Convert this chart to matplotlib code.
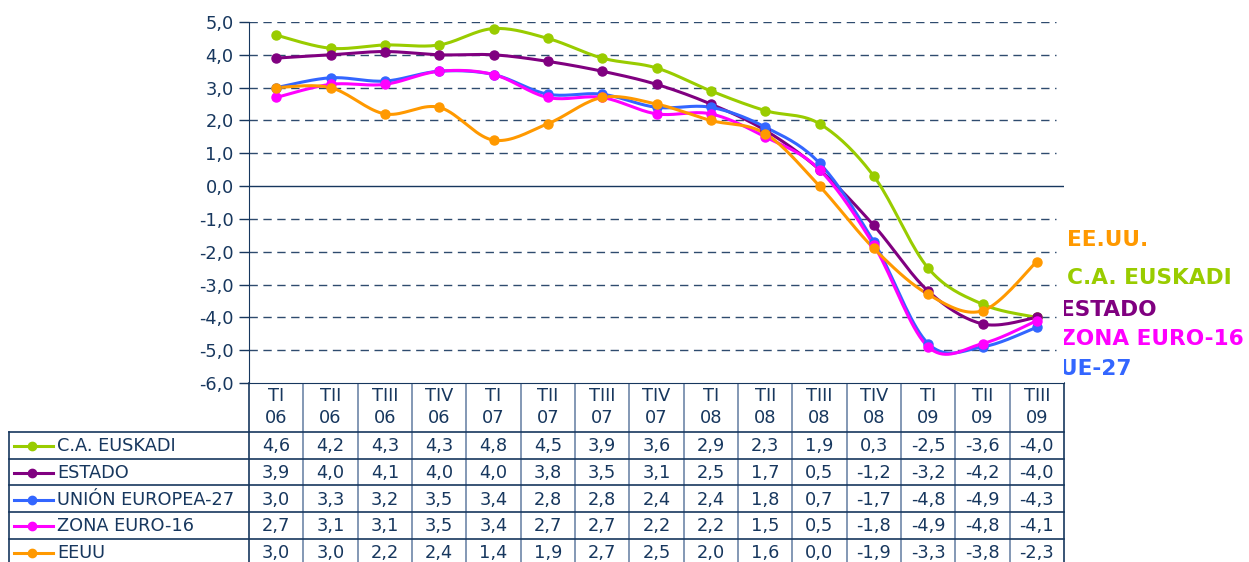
import numpy as np
import matplotlib
matplotlib.use("Agg")
import matplotlib.pyplot as plt
from matplotlib.transforms import blended_transform_factory

periods = ["TI\n06", "TII\n06", "TIII\n06", "TIV\n06", "TI\n07", "TII\n07", "TIII\n07", "TIV\n07",
           "TI\n08", "TII\n08", "TIII\n08", "TIV\n08", "TI\n09", "TII\n09", "TIII\n09"]

euskadi = [4.6, 4.2, 4.3, 4.3, 4.8, 4.5, 3.9, 3.6, 2.9, 2.3, 1.9, 0.3, -2.5, -3.6, -4.0]
estado = [3.9, 4.0, 4.1, 4.0, 4.0, 3.8, 3.5, 3.1, 2.5, 1.7, 0.5, -1.2, -3.2, -4.2, -4.0]
ue27 = [3.0, 3.3, 3.2, 3.5, 3.4, 2.8, 2.8, 2.4, 2.4, 1.8, 0.7, -1.7, -4.8, -4.9, -4.3]
zona16 = [2.7, 3.1, 3.1, 3.5, 3.4, 2.7, 2.7, 2.2, 2.2, 1.5, 0.5, -1.8, -4.9, -4.8, -4.1]
eeuu = [3.0, 3.0, 2.2, 2.4, 1.4, 1.9, 2.7, 2.5, 2.0, 1.6, 0.0, -1.9, -3.3, -3.8, -2.3]

series_names = ["C.A. EUSKADI", "ESTADO", "UNIÓN EUROPEA-27", "ZONA EURO-16", "EEUU"]
end_labels = ["C.A. EUSKADI", "ESTADO", "UE-27", "ZONA EURO-16", "EE.UU."]
series = [euskadi, estado, ue27, zona16, eeuu]
colors = ["#99CC00", "#800080", "#3366FF", "#FF00FF", "#FF9900"]

navy = "#17375E"
W, H = 1249, 562


def smooth(y, steps=20):
    # excel-style smoothed line (cubic bezier, catmull-rom control points)
    y = np.asarray(y, float)
    x = np.arange(len(y), dtype=float)
    p = np.column_stack([x, y])
    pts = []
    t = np.linspace(0, 1, steps)[:, None]
    for i in range(len(p) - 1):
        p0 = p[max(i - 1, 0)]
        p1, p2 = p[i], p[i + 1]
        p3 = p[min(i + 2, len(p) - 1)]
        c1 = p1 + (p2 - p0) / 6
        c2 = p2 - (p3 - p1) / 6
        seg = (1 - t) ** 3 * p1 + 3 * (1 - t) ** 2 * t * c1 + 3 * (1 - t) * t ** 2 * c2 + t ** 3 * p2
        pts.append(seg if i == 0 else seg[1:])
    pts = np.vstack(pts)
    return pts[:, 0], pts[:, 1]


fig = plt.figure(figsize=(W / 100, H / 100), dpi=100)
ax = fig.add_axes([249 / W, 1 - 383 / H, (1064 - 249) / W, (383 - 22) / H])
ax.set_xlim(-0.5, len(periods) - 0.5)
ax.set_ylim(-6, 5)

for v in range(-5, 6):
    if v == 0:
        ax.axhline(0, color=navy, lw=1, zorder=1)
    else:
        ax.axhline(v, xmax=0.99, color=navy, lw=1, ls=(0, (6, 4)), alpha=0.9, zorder=1)

for vals, c in zip(series, colors):
    xs, ys = smooth(vals)
    ax.plot(xs, ys, color=c, lw=2.2, zorder=3, solid_capstyle="round")
    ax.plot(np.arange(len(vals)), vals, "o", color=c, ms=6.5, zorder=4)

ax.set_yticks(range(-6, 6))
ax.set_yticklabels([f"{v},0" for v in range(-6, 6)], fontsize=12.8, color=navy)
ax.set_xticks([])
ax.tick_params(axis="y", length=7, width=1, color=navy, pad=4)
for s in ["top", "right"]:
    ax.spines[s].set_visible(False)
ax.spines["left"].set_color(navy)
ax.spines["bottom"].set_color(navy)

# overlay in pixel coordinates for the data table and end labels
tab = fig.add_axes([0, 0, 1, 1], zorder=-1)
tab.set_xlim(0, W)
tab.set_ylim(H, 0)
tab.axis("off")
bt = blended_transform_factory(ax.transData, tab.transData)

n = len(periods)
row_top = 432
row_h = 26.7
rows_y = [row_top + row_h * k for k in range(len(series) + 1)]

# column separators
for i in range(n + 1):
    edge = i in (0, n)
    tab.plot([i - 0.5, i - 0.5], [383, H + 10], transform=bt,
             color=navy if edge else "#6E86A8", lw=1.2, clip_on=False)
# horizontal row lines
x_right = ax.transData.transform((n - 0.5, 0))[0]
for yy in rows_y:
    tab.plot([9, x_right], [yy, yy], color=navy, lw=1.2)
tab.plot([9, 9], [row_top, H + 10], color=navy, lw=1.2)

for i, lab in enumerate(periods):
    a, b = lab.split("\n")
    tab.text(i, 396, a, transform=bt, ha="center", va="center", fontsize=12.8, color=navy)
    tab.text(i, 418, b, transform=bt, ha="center", va="center", fontsize=12.8, color=navy)

for r, (name, vals, c) in enumerate(zip(series_names, series, colors)):
    yc = row_top + row_h * r + row_h / 2 + 1
    tab.plot([14, 53], [yc, yc], color=c, lw=2.2)
    tab.plot([32], [yc], "o", color=c, ms=6)
    tab.text(57, yc, name, ha="left", va="center", fontsize=12.8, color=navy)
    for i, v in enumerate(vals):
        tab.text(i, yc, f"{v:.1f}".replace(".", ","), transform=bt,
                 ha="center", va="center", fontsize=12.8, color=navy)

# labels at the end of the lines
label_pos = {"EE.UU.": (1067, 240), "C.A. EUSKADI": (1067, 278), "ESTADO": (1060, 310),
             "ZONA EURO-16": (1060, 339), "UE-27": (1060, 369)}
for lab, c in zip(end_labels, colors):
    x0, y0 = label_pos[lab]
    tab.text(x0, y0, lab, ha="left", va="center", fontsize=15.6, fontweight="bold", color=c)

fig.savefig("out.png", dpi=100)
